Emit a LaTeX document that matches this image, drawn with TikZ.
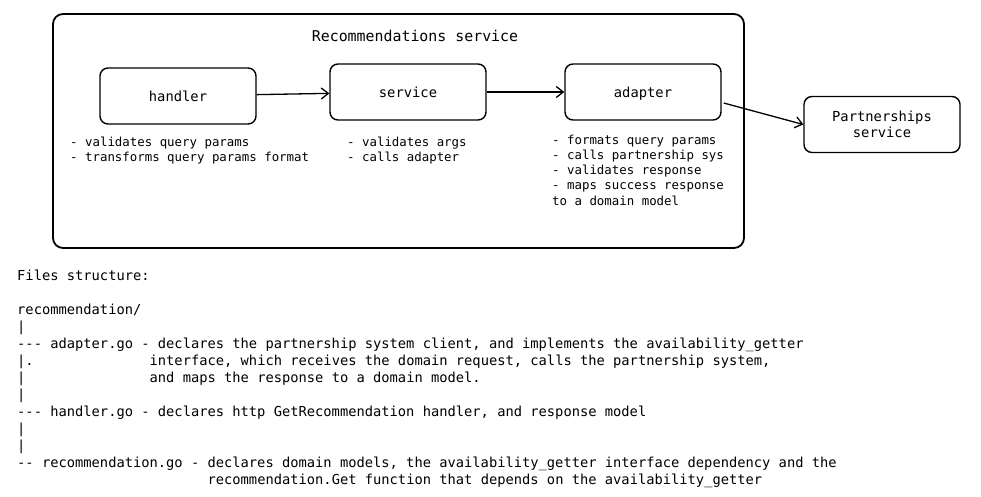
\documentclass[tikz,border=0pt]{standalone}
\usepackage{fontspec}
\setmainfont[Ligatures=TeXOff]{DejaVu Sans Mono}
\usetikzlibrary{arrows.meta,positioning,calc}

% fixed-width gap of #1 characters
\newcommand\blank[1]{\hspace*{\dimexpr#1\fontcharwd\font`\x\relax}}

\begin{document}
\begin{tikzpicture}[
    x=1pt, y=-1pt,
    every node/.style={inner sep=0pt, text=black},
    component/.style={draw, line width=1.4pt, rounded corners=8pt, minimum width=156pt, minimum height=56pt, align=center, font=\fontsize{13.8}{16}\selectfont},
    notes/.style={anchor=north west, align=left, font=\fontsize{12.4}{15.4}\selectfont},
    flow/.style={line width=1.3pt, -{Straight Barb[length=7pt,width=11pt]}}
  ]
  \useasboundingbox (0,0) rectangle (981,496);

  % Recommendations service
  \node[draw, line width=1.8pt, rounded corners=10pt, minimum width=691pt, minimum height=234pt] (recsvc) at (398.5,131) {};
  \node[font=\fontsize{14.9}{17}\selectfont] (recTitle) at (415,36) {Recommendations service};

  \node[component] (handler) at (178,96) {handler};
  \node[component] (service) at (408,92) {service};
  \node[component, text depth=0pt] (adapter) at (643,92) {adapter};
  \node[component] (partner) at (882,124.5) {Partnerships\\service};

  % notes under the components
  \node[notes] (handlerNotes) at (70,136.5) {- validates query params\\- transforms query params format};
  \node[notes] (serviceNotes) at (347,136.5) {- validates args\\- calls adapter};
  \node[notes, font=\fontsize{12.4}{15.25}\selectfont] (adapterNotes) at (552,134.5) {- formats query params\\- calls partnership sys\\- validates response\\- maps success response\\to a domain model};

  \draw[flow] (handler) -- (service);
  \draw[flow] (service) -- (adapter);
  \draw[flow] ($(adapter.east)+(2,11)$) -- (partner.west);

  % files structure
  \node[anchor=north west, align=left, font=\fontsize{13.75}{17}\selectfont] (files) at (17,270) {Files structure:\\[17pt]
    recommendation/\\
    |\\
    --- adapter.go - declares the partnership system client, and implements the availability\_getter\\
    |.\blank{14}interface, which receives the domain request, calls the partnership system,\\
    |\blank{15}and maps the response to a domain model.\\
    |\\
    --- handler.go - declares http GetRecommendation handler, and response model\\
    |\\
    |\\
    -- recommendation.go - declares domain models, the availability\_getter interface dependency and the\\
    \blank{23}recommendation.Get function that depends on the availability\_getter};
\end{tikzpicture}
\end{document}
